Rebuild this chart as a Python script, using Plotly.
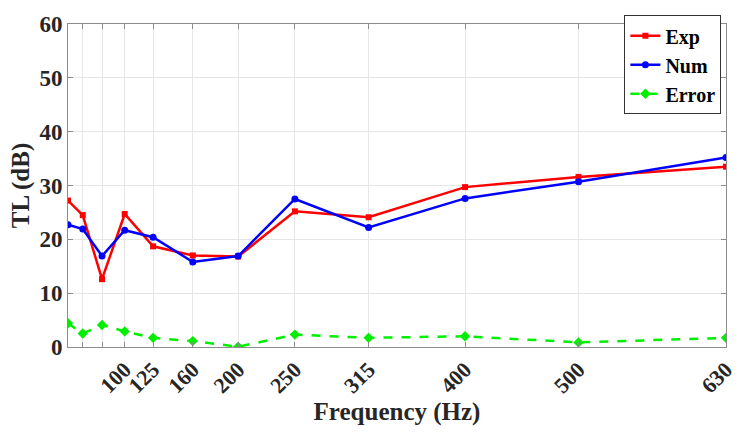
import plotly.graph_objects as go

# One-third octave band centre frequencies (Hz)
freq = [50, 63, 80, 100, 125, 160, 200, 250, 315, 400, 500, 630]

# Transmission loss (dB)
tl_exp = [27.2, 24.5, 12.6, 24.7, 18.7, 17.0, 16.8, 25.2, 24.1, 29.7, 31.6, 33.5]
tl_num = [22.7, 21.9, 16.9, 21.7, 20.4, 15.8, 16.9, 27.5, 22.2, 27.6, 30.7, 35.2]
tl_err = [4.4, 2.5, 4.1, 2.9, 1.7, 1.1, 0.05, 2.3, 1.7, 2.0, 0.85, 1.7]

x_tickvals = [50, 63, 80, 100, 125, 160, 200, 250, 315, 400, 500, 630]
x_ticktext = ["", "", "", "100", "125", "160", "200", "250", "315", "400", "500", "630"]
y_tickvals = [0, 10, 20, 30, 40, 50, 60]

FONT = "Liberation Serif, Times New Roman, serif"
TXT = "#262626"

fig = go.Figure()
fig.add_trace(go.Scatter(
    x=freq, y=tl_exp, name="<b>Exp</b>", mode="lines+markers",
    line=dict(color="#ff0000", width=2.5),
    marker=dict(symbol="square", size=6, color="#ff0000"),
))
fig.add_trace(go.Scatter(
    x=freq, y=tl_num, name="<b>Num</b>", mode="lines+markers",
    line=dict(color="#0000ff", width=2.5),
    marker=dict(symbol="circle", size=7, color="#0000ff"),
))
fig.add_trace(go.Scatter(
    x=freq, y=tl_err, name="<b>Error</b>", mode="lines+markers",
    line=dict(color="#00ee00", width=2.5, dash="dash"),
    marker=dict(symbol="diamond", size=8, color="#00ee00"),
))

axis_common = dict(
    showline=True, linecolor="#8c8c8c", linewidth=1, mirror="ticks",
    ticks="inside", ticklen=5, tickcolor="#8c8c8c",
    showgrid=True, gridcolor="#e6e6e6", gridwidth=1, zeroline=False,
)

fig.update_layout(
    width=749, height=432,
    margin=dict(l=68, r=14, t=13, b=85),
    paper_bgcolor="white", plot_bgcolor="white",
    font=dict(family=FONT, color=TXT),
    xaxis=dict(
        range=[50, 630], tickvals=x_tickvals,
        ticktext=["<b>%s</b>" % t if t else "" for t in x_ticktext],
        tickangle=-45, tickfont=dict(family=FONT, size=22, color=TXT),
        title=dict(text="<b>Frequency (Hz)</b>", standoff=2,
                   font=dict(family=FONT, size=25, color=TXT)),
        **axis_common,
    ),
    yaxis=dict(
        range=[0, 60], tickvals=y_tickvals,
        ticktext=["<b>%d</b>" % v for v in y_tickvals],
        tickfont=dict(family=FONT, size=23, color=TXT),
        title=dict(text="<b>TL (dB)</b>", standoff=2,
                   font=dict(family=FONT, size=25, color=TXT)),
        **axis_common,
    ),
    legend=dict(
        x=0.993, y=1.027, xanchor="right", yanchor="top",
        bgcolor="white", bordercolor="#333333", borderwidth=1,
        font=dict(family=FONT, size=20, color="black"),
        itemwidth=30, tracegroupgap=0,
    ),
)

fig.write_html("out.html")
